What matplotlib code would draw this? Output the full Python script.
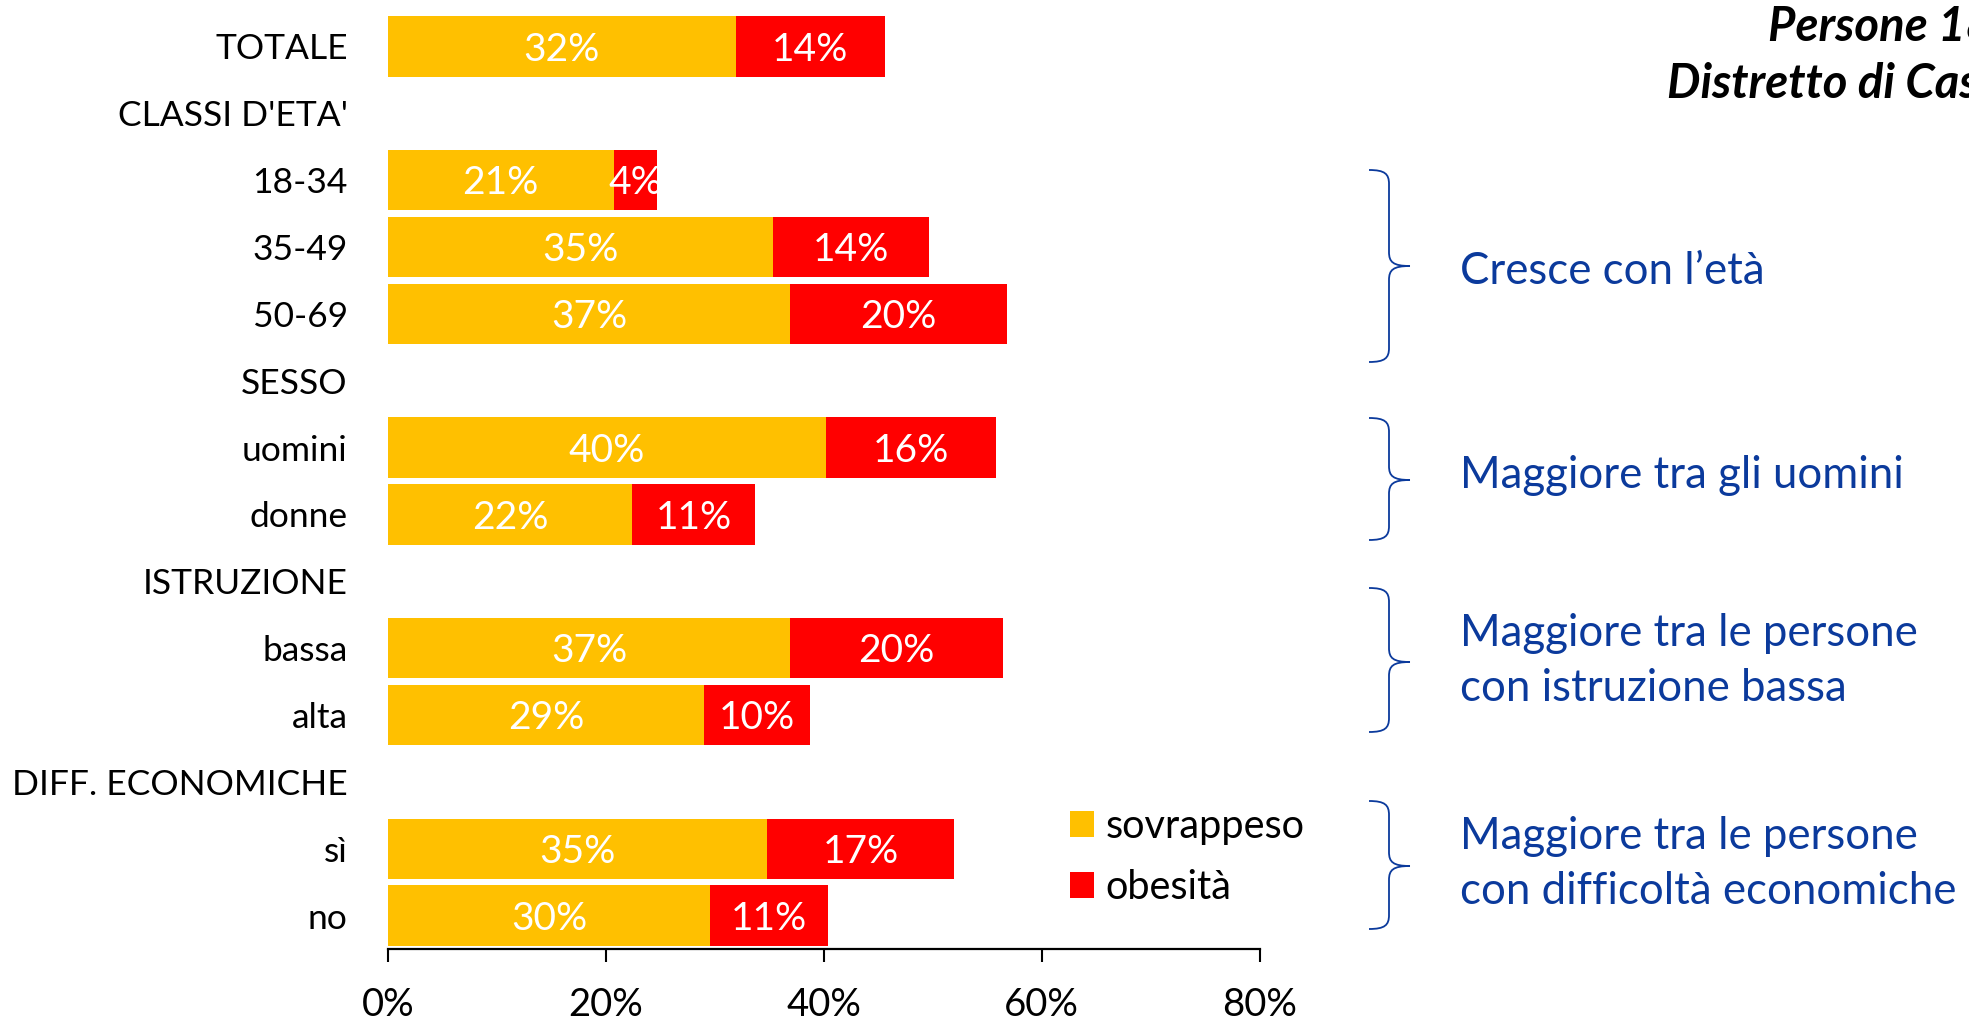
import numpy as np
import matplotlib
matplotlib.use("Agg")
import matplotlib.pyplot as plt
from matplotlib.patches import Patch, PathPatch
from matplotlib.path import Path

# ---------------- data ----------------
categories = ['TOTALE', "CLASSI D'ETA'", '18-34', '35-49', '50-69', 'SESSO',
              'uomini', 'donne', 'ISTRUZIONE', 'bassa', 'alta',
              'DIFF. ECONOMICHE', 'sì', 'no']
sovrappeso = [31.9, None, 20.7, 35.3, 36.9, None, 40.2, 22.4, None, 36.9, 29.0, None, 34.8, 29.6]
obesita    = [13.7, None, 4.0, 14.4, 19.9, None, 15.6, 11.3, None, 19.6, 9.7, None, 17.2, 10.8]
series_names = ['sovrappeso', 'obesità']
x_ticks = [0, 20, 40, 60, 80]
x_ticklabels = ['0%', '20%', '40%', '60%', '80%']

title_lines = ['Persone 18', 'Distretto di Cas']
notes = ["Cresce con l’età",
         "Maggiore tra gli uomini",
         "Maggiore tra le persone\ncon istruzione bassa",
         "Maggiore tra le persone\ncon difficoltà economiche"]

# ---------------- style ----------------
FONT = 'Lato'
plt.rcParams['font.family'] = [FONT, 'DejaVu Sans']
YELLOW = '#FFC000'
RED = '#FF0000'
BLUE = '#0B3A9C'

W, H = 1969, 1023
fig = plt.figure(figsize=(W / 100, H / 100), dpi=100)

ax_left, ax_right = 388 / W, 1259.5 / W
ax_top, ax_bot = 1 - 13 / H, 1 - 949 / H
ax = fig.add_axes([ax_left, ax_bot, ax_right - ax_left, ax_top - ax_bot])

n = len(categories)
ypos = np.arange(n)
idx = [i for i in range(n) if sovrappeso[i] is not None]
sv = np.array([sovrappeso[i] for i in idx])
ob = np.array([obesita[i] for i in idx])
yy = ypos[idx]

bh = 0.9
ax.barh(yy, sv, height=bh, color=YELLOW, edgecolor='none')
ax.barh(yy, ob, left=sv, height=bh, color=RED, edgecolor='none')

for y, s, o in zip(yy, sv, ob):
    ax.text(s / 2, y + 0.05, f"{round(s):d}%", ha='center', va='center',
            color='white', fontsize=28)
    ax.text(s + o / 2, y + 0.05, f"{round(o):d}%", ha='center', va='center',
            color='white', fontsize=28)

ax.set_xlim(0, 80)
ax.set_ylim(n - 0.5, -0.5)
ax.set_yticks(ypos)
ax.set_yticklabels(categories, fontsize=25.5)
ax.tick_params(axis='y', length=0, pad=29)
ax.set_xticks(x_ticks)
ax.set_xticklabels(x_ticklabels, fontsize=27.5)
ax.tick_params(axis='x', direction='out', length=9, width=1.5, pad=18, colors='black')
for s in ['top', 'right', 'left']:
    ax.spines[s].set_visible(False)
ax.spines['bottom'].set_linewidth(1.6)

# legend
handles = [Patch(facecolor=YELLOW, edgecolor='none'), Patch(facecolor=RED, edgecolor='none')]
fig.legend(handles, series_names, loc='upper left',
           bbox_to_anchor=(1070 / W, 1 - 808 / H), frameon=False,
           fontsize=28.5, handlelength=0.6, handleheight=0.66,
           handletextpad=0.3, labelspacing=0.6, borderpad=0, borderaxespad=0)

# overlay in pixel coordinates for annotations
ov = fig.add_axes([0, 0, 1, 1], zorder=5)
ov.set_xlim(0, W)
ov.set_ylim(H, 0)
ov.axis('off')
ov.patch.set_alpha(0)

def brace(top, bot, mid, xl=1369, xs=1389, xt=1410, r=14):
    verts = [(xl, top),
             (xs - 4, top), (xs, top + 4), (xs, top + r),
             (xs, mid - r),
             (xs, mid - 4), (xs + 4, mid), (xt, mid),
             (xs + 4, mid), (xs, mid + 4), (xs, mid + r),
             (xs, bot - r),
             (xs, bot - 4), (xs - 4, bot), (xl, bot)]
    codes = [Path.MOVETO,
             Path.CURVE4, Path.CURVE4, Path.CURVE4,
             Path.LINETO,
             Path.CURVE4, Path.CURVE4, Path.CURVE4,
             Path.CURVE4, Path.CURVE4, Path.CURVE4,
             Path.LINETO,
             Path.CURVE4, Path.CURVE4, Path.CURVE4]
    ov.add_patch(PathPatch(Path(verts, codes), facecolor='none',
                           edgecolor=BLUE, lw=1.3))

brace(170, 362, 266)
brace(418, 540, 480)
brace(588, 732, 662)
brace(801, 929, 866)

note_y = [271, 475, 661, 864]
for t, y in zip(notes, note_y):
    ov.text(1460, y, t, ha='left', va='center', color=BLUE, fontsize=31.5,
            linespacing=1.45)

ov.text(1768, 27, title_lines[0], ha='left', va='center', fontsize=34,
        fontweight='bold', fontstyle='italic', color='black', clip_on=True)
ov.text(1667, 84, title_lines[1], ha='left', va='center', fontsize=34,
        fontweight='bold', fontstyle='italic', color='black', clip_on=True)

fig.savefig('out.png', dpi=100)
